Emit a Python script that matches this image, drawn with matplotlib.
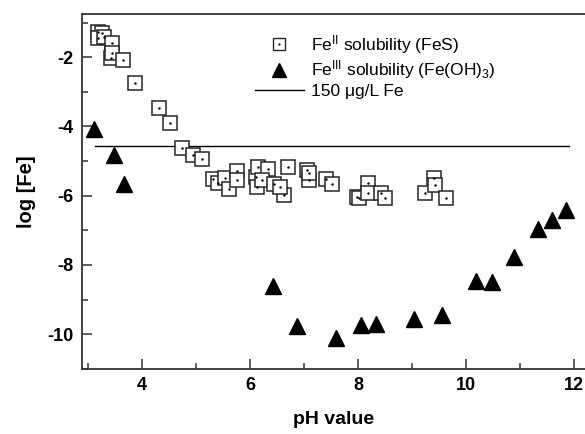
import numpy as np
import matplotlib.pyplot as plt

plt.rcParams['font.family'] = ['Liberation Sans', 'DejaVu Sans']
plt.rcParams['mathtext.fontset'] = 'custom'
plt.rcParams['mathtext.rm'] = 'Liberation Sans'
plt.rcParams['mathtext.it'] = 'Liberation Sans:italic'
plt.rcParams['mathtext.bf'] = 'Liberation Sans:bold'
plt.rcParams['axes.unicode_minus'] = False

# Fe(II) solubility (FeS), open squares
fes_ph = [3.19, 3.27, 3.18, 3.29, 3.45, 3.42, 3.45, 3.65, 3.88, 4.32, 4.52,
          4.74, 4.95, 5.11, 5.32, 5.41, 5.54, 5.61, 5.76, 5.76, 6.11, 6.15,
          6.33, 6.13, 6.23, 6.44, 6.63, 6.55, 6.70, 7.05, 7.09, 7.10, 7.40,
          7.51, 7.98, 8.01, 8.18, 8.18, 8.43, 8.49, 9.23, 9.41, 9.43, 9.63]
fes_log = [-1.28, -1.31, -1.45, -1.42, -1.60, -2.03, -1.88, -2.09, -2.75,
           -3.47, -3.91, -4.63, -4.83, -4.95, -5.53, -5.64, -5.50, -5.82,
           -5.29, -5.55, -5.47, -5.18, -5.24, -5.75, -5.55, -5.65, -5.99,
           -5.76, -5.18, -5.27, -5.55, -5.33, -5.53, -5.67, -6.05, -6.08,
           -5.64, -5.93, -5.93, -6.08, -5.93, -5.50, -5.68, -6.08]

# Fe(III) solubility (Fe(OH)3), filled triangles
feoh_ph = [3.12, 3.49, 3.66, 6.42, 6.87, 7.59, 8.06, 8.34, 9.04, 9.56,
           10.19, 10.48, 10.89, 11.33, 11.59, 11.85]
feoh_log = [-4.08, -4.83, -5.65, -8.60, -9.77, -10.12, -9.72, -9.69, -9.55,
            -9.43, -8.47, -8.50, -7.78, -6.97, -6.71, -6.42]

# 150 ug/L Fe limit
limit_ph = [3.13, 11.9]
limit_log = -4.57

fig = plt.figure(figsize=(5.85, 4.34), dpi=100)
ax = fig.add_axes([0.140, 0.150, 0.860, 0.818])

line, = ax.plot(limit_ph, [limit_log, limit_log], color='black', lw=1.0,
                zorder=1)
sq, = ax.plot(fes_ph, fes_log, ls='none', marker='s', ms=9.5, mfc='white',
              mec='#262626', mew=1.1, zorder=2)
dot, = ax.plot(fes_ph, fes_log, ls='none', marker='.', ms=1.5, color='black',
               zorder=3)
tri, = ax.plot(feoh_ph, feoh_log, ls='none', marker='^', ms=12, color='black',
               zorder=4)

ax.set_xlim(2.89, 12.2)
ax.set_ylim(-11, -0.75)
ax.set_xticks([4, 6, 8, 10, 12])
ax.set_xticks(np.arange(3, 12.5, 1), minor=True)
ax.set_yticks([-10, -8, -6, -4, -2])
ax.set_yticks(np.arange(-11, -0.5, 1), minor=True)

ax.tick_params(which='both', direction='in', color='#333333', width=1.1)
ax.tick_params(which='major', length=7, labelsize=13, pad=6)
ax.tick_params(which='minor', length=4)
for lab in ax.get_xticklabels() + ax.get_yticklabels():
    lab.set_fontweight('bold')

ax.spines['right'].set_visible(False)
for s in ['left', 'bottom', 'top']:
    ax.spines[s].set_color('#333333')
    ax.spines[s].set_linewidth(1.3)

ax.set_xlabel('pH value', fontsize=14, fontweight='bold', labelpad=12)
ax.set_ylabel('log [Fe]', fontsize=14.5, fontweight='bold', labelpad=8)

# legend handles: smaller markers than in the plot
leg_sq, = ax.plot([], [], ls='none', marker='s', ms=8, mfc='white',
                  mec='#262626', mew=1.0)
leg_dot, = ax.plot([], [], ls='none', marker='.', ms=1.2, color='black')
leg_tri, = ax.plot([], [], ls='none', marker='^', ms=10, color='black')

ax.legend([(leg_sq, leg_dot), leg_tri, line],
          [r'Fe$^{\mathrm{II}}$ solubility (FeS)',
           r'Fe$^{\mathrm{III}}$ solubility (Fe(OH)$_{3}$)',
           '150 \u03bcg/L Fe'],
          frameon=False, fontsize=12.5, loc='upper left',
          bbox_to_anchor=(255 / 585, 1 - 33 / 434),
          bbox_transform=fig.transFigure, borderpad=0, borderaxespad=0,
          handlelength=2.8, handletextpad=0.4, labelspacing=0.15)

fig.savefig('out.png', dpi=100)
